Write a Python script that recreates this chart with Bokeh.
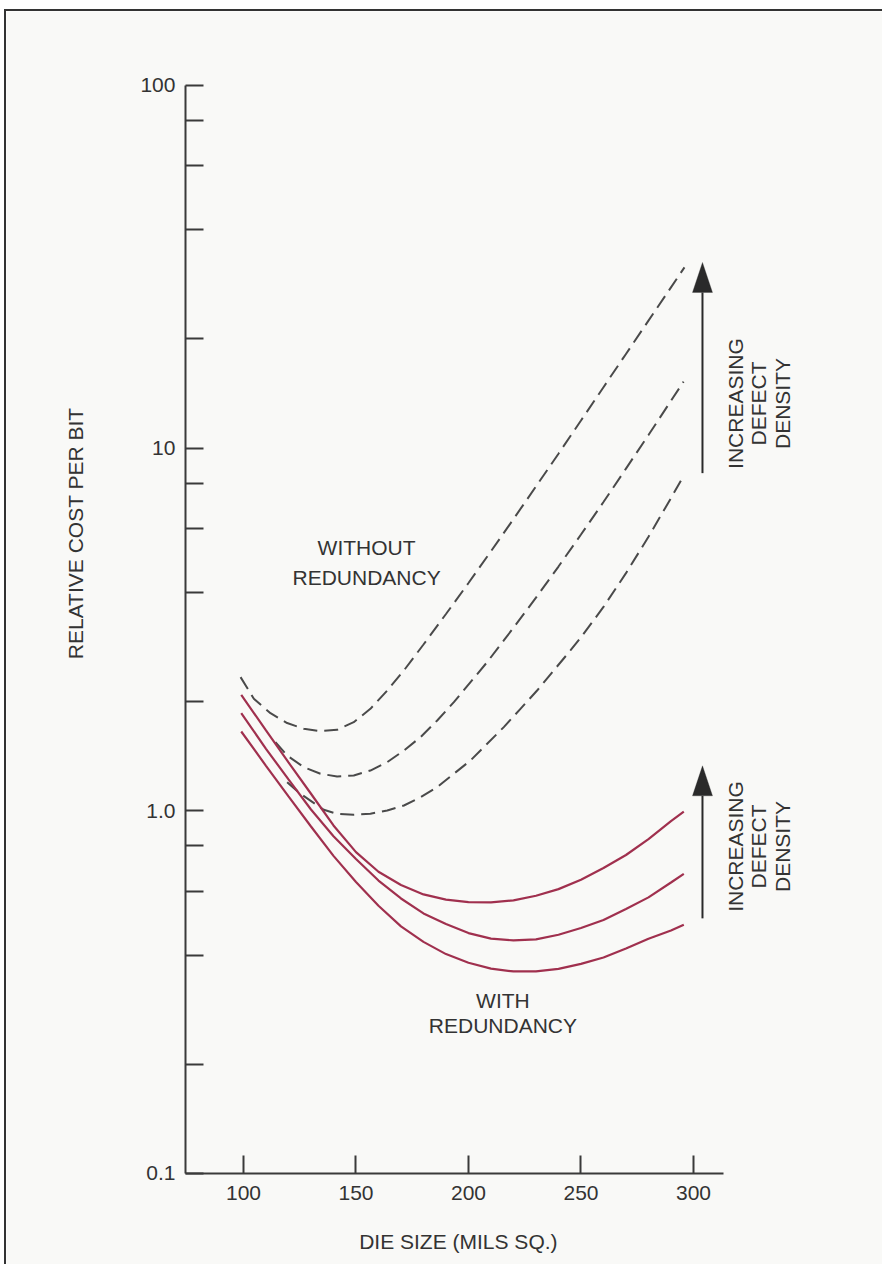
import math
from bokeh.plotting import figure
from bokeh.models import (FixedTicker, CustomJSTickFormatter, Label, Arrow,
                          PolyAnnotation, Range1d)
from bokeh.embed import file_html
from bokeh.resources import INLINE

# ---------------- data ----------------
die_red = [99, 110, 120, 130, 140, 150, 160, 170, 180, 190, 200, 210, 220,
           230, 240, 250, 260, 270, 280, 290, 295.7]
cost_red_high = [2.088, 1.665, 1.359, 1.114, 0.911, 0.769, 0.679, 0.624, 0.588,
                 0.569, 0.560, 0.559, 0.566, 0.583, 0.608, 0.645, 0.695, 0.755,
                 0.835, 0.936, 0.994]
cost_red_mid = [1.858, 1.482, 1.220, 1.008, 0.851, 0.736, 0.642, 0.573, 0.521,
                0.487, 0.460, 0.444, 0.439, 0.442, 0.455, 0.475, 0.500, 0.536,
                0.577, 0.634, 0.670]
cost_red_low = [1.654, 1.330, 1.095, 0.905, 0.751, 0.636, 0.547, 0.480, 0.435,
                0.4025, 0.381, 0.367, 0.3605, 0.3605, 0.3666, 0.3784, 0.394,
                0.417, 0.4436, 0.4677, 0.485]

die_dash_high = [98.7, 104.6, 112.0, 119.4, 126.8, 134.2, 141.6, 149.0, 156.4,
                 163.9, 171.3, 180, 190, 200, 210, 220, 230, 240, 250, 260,
                 270, 280, 290, 296]
cost_dash_high = [2.336, 2.036, 1.858, 1.745, 1.683, 1.658, 1.672, 1.755,
                  1.910, 2.146, 2.437, 2.874, 3.487, 4.247, 5.194, 6.374, 7.84,
                  9.65, 11.91, 14.72, 18.18, 22.46, 27.75, 31.5]

die_dash_mid = [114.2, 119.4, 126.8, 134.2, 141.6, 149.0, 156.4, 163.9, 171.3,
                178.7, 186.1, 193.5, 200.9, 208.3, 215.7, 220, 230, 240, 250,
                260, 270, 280, 290, 295.6]
cost_dash_mid = [1.546, 1.420, 1.319, 1.265, 1.243, 1.251, 1.291, 1.362,
                 1.466, 1.596, 1.774, 1.993, 2.263, 2.570, 2.949, 3.196, 3.869,
                 4.714, 5.776, 7.10, 8.78, 10.87, 13.50, 15.25]

die_dash_low = [119.4, 125.3, 135.7, 141.6, 149.0, 156.4, 163.9, 171.3, 178.7,
                186.1, 193.5, 200.9, 208.3, 215.7, 223.1, 230.5, 237.9, 245.3,
                250, 260, 270, 280, 290, 295.6]
cost_dash_low = [1.199, 1.114, 1.006, 0.981, 0.975, 0.981, 1.002, 1.034,
                 1.090, 1.162, 1.265, 1.376, 1.530, 1.701, 1.910, 2.146,
                 2.437, 2.767, 3.007, 3.647, 4.52, 5.693, 7.28, 8.38]

x_ticks = [100, 150, 200, 250, 300]
y_major = [0.1, 1, 10, 100]
y_minor = [0.2, 0.4, 0.6, 0.8, 2, 4, 6, 8, 20, 40, 60, 80]

# ---------------- styling ----------------
FONT = "Liberation Sans"
TXT = "#333333"
AXC = "#3a3a3a"
RED = "#a0304e"
DASHC = "#4a4a4a"
BG = "#f9f9f7"

# plotting frame covers the whole canvas; axes are pinned inside it
XL, XR = -5.33, 384.9
YB, YT = 0.05538, 159.9
AX_X0, AX_X1 = 74.2, 313.3
p = figure(width=878, height=1255, output_backend="svg", toolbar_location=None,
           y_axis_type="log", x_range=Range1d(XL, XR), y_range=Range1d(YB, YT),
           min_border=0)
p.margin = (9, 0, 0, 4)
p.styles = {"border-top": "2px solid #333", "border-left": "2px solid #333"}
p.background_fill_color = BG
p.border_fill_color = BG
p.outline_line_color = None
p.grid.grid_line_color = None

# axes
xa = p.xaxis[0]
xa.ticker = FixedTicker(ticks=x_ticks)
xa.fixed_location = 0.1
xa.bounds = (AX_X0, AX_X1)
ya = p.yaxis[0]
ya.ticker = FixedTicker(ticks=y_major, minor_ticks=y_minor)
ya.fixed_location = AX_X0
ya.bounds = (0.1, 100)
ya.formatter = CustomJSTickFormatter(code="""
const m = {'0.1': '0.1', '1': '1.0', '10': '10', '100': '100'};
const k = String(tick);
return (k in m) ? m[k] : '';
""")
for ax in (xa, ya):
    ax.axis_line_color = AXC
    ax.axis_line_width = 2
    ax.major_tick_line_color = AXC
    ax.major_tick_line_width = 2
    ax.minor_tick_line_color = AXC
    ax.minor_tick_line_width = 2
    ax.major_tick_in = 18
    ax.major_tick_out = 0
    ax.minor_tick_in = 18
    ax.minor_tick_out = 0
    ax.major_label_text_font = FONT
    ax.major_label_text_font_size = "21px"
    ax.major_label_text_color = TXT
xa.minor_tick_line_color = None
xa.major_label_standoff = 13
ya.major_label_standoff = 10

# curves
for xs, ys in ((die_dash_high, cost_dash_high), (die_dash_mid, cost_dash_mid),
               (die_dash_low, cost_dash_low)):
    p.line(xs, ys, line_color=DASHC, line_width=2, line_dash="14 7")
for ys in (cost_red_high, cost_red_mid, cost_red_low):
    p.line(die_red, ys, line_color=RED, line_width=2.2)

# arrows
PXD = 1255 / math.log10(YT / YB)   # pixels per decade on y
PXX = 878 / (XR - XL)              # pixels per x unit
ARROW_X = 304.0


def arrow(y0, tip):
    base = tip / 10 ** (30 / PXD)
    p.add_layout(Arrow(x_start=ARROW_X, y_start=y0, x_end=ARROW_X, y_end=base,
                       line_color="#2a2a2a", line_width=2, end=None))
    hw = 10 / PXX
    p.add_layout(PolyAnnotation(xs=[ARROW_X, ARROW_X - hw, ARROW_X + hw],
                                ys=[tip, base, base], fill_color="#2a2a2a",
                                fill_alpha=1, line_color="#2a2a2a", line_width=1))


arrow(8.53, 32.5)
arrow(0.505, 1.33)


def label(x, y, text, angle=0.0):
    p.add_layout(Label(x=x, y=y, text=text, angle=angle,
                       text_font=FONT, text_font_size="21px", text_color=TXT,
                       text_align="center", text_baseline="middle"))


label(154.7, 5.33, "WITHOUT")
label(154.7, 4.40, "REDUNDANCY")
label(215.3, 0.299, "WITH")
label(215.3, 0.255, "REDUNDANCY")

for yc in (13.27, 0.797):
    label(318.7, yc, "INCREASING", math.pi / 2)
    label(329.1, yc, "DEFECT", math.pi / 2)
    label(339.6, yc, "DENSITY", math.pi / 2)

label(25.3, 5.82, "RELATIVE COST PER BIT", math.pi / 2)
label(195.5, 0.0648, "DIE SIZE (MILS SQ.)")

open("out.html", "w").write(file_html(p, INLINE))
